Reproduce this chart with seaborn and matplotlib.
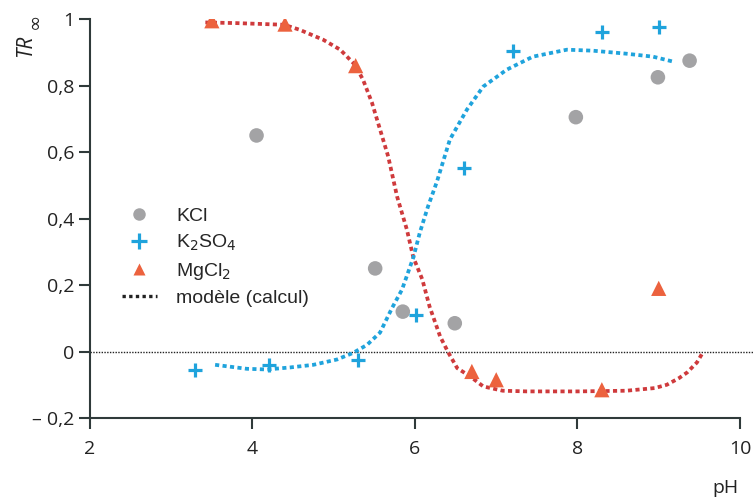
import numpy as np
import pandas as pd
import matplotlib
matplotlib.use('Agg')
import matplotlib.pyplot as plt
from matplotlib.lines import Line2D
from matplotlib.ticker import FuncFormatter
import seaborn as sns

# measured points
kcl_ph = [4.05, 5.51, 5.85, 6.49, 7.98, 8.99, 9.38]
kcl_tr = [0.65, 0.25, 0.12, 0.085, 0.705, 0.825, 0.875]

k2so4_ph = [3.29, 4.2, 5.3, 6.01, 6.6, 7.21, 8.3, 9.0]
k2so4_tr = [-0.057, -0.04, -0.025, 0.11, 0.553, 0.905, 0.96, 0.977]

mgcl2_ph = [3.5, 4.4, 5.27, 6.7, 7.0, 8.3, 9.0]
mgcl2_tr = [0.995, 0.985, 0.86, -0.06, -0.085, -0.115, 0.19]

# model curves
model_mg_ph = [3.42, 3.8, 4.39, 4.58, 4.87, 5.08, 5.26, 5.36, 5.47, 5.57, 5.67,
               5.78, 5.9, 5.98, 6.09, 6.18, 6.31, 6.41, 6.52, 6.68, 6.84, 7.08,
               7.38, 8.0, 8.6, 8.95, 9.1, 9.25, 9.35, 9.47, 9.55]
model_mg_tr = [0.99, 0.988, 0.983, 0.968, 0.938, 0.908, 0.863, 0.818, 0.749, 0.668,
               0.587, 0.466, 0.367, 0.283, 0.217, 0.135, 0.045, -0.003, -0.05,
               -0.075, -0.105, -0.118, -0.12, -0.12, -0.118, -0.11, -0.1, -0.08,
               -0.063, -0.033, 0.0]

model_k_ph = [3.54, 3.93, 4.18, 4.46, 4.75, 5.04, 5.24, 5.41, 5.57, 5.72, 5.84,
              5.98, 6.06, 6.16, 6.27, 6.43, 6.64, 6.84, 7.13, 7.45, 7.87, 8.19,
              8.6, 8.93, 9.18]
model_k_tr = [-0.04, -0.052, -0.054, -0.048, -0.04, -0.024, -0.004, 0.02, 0.057,
              0.132, 0.186, 0.283, 0.358, 0.436, 0.511, 0.638, 0.728, 0.797, 0.848,
              0.887, 0.908, 0.905, 0.896, 0.887, 0.872]

sns.set_style('ticks')
plt.rcParams['font.family'] = ['Open Sans', 'DejaVu Sans']

grey = '#a3a3a5'
blue = '#1fa3dc'
orange = '#ec623e'
red = '#cf3a3c'
axis_col = '#2f3a3a'

fig = plt.figure(figsize=(7.53, 5.03), dpi=100)
ax = fig.add_axes([0.1195, 0.169, 0.8632, 0.793])

dots = (0, (1.1, 0.9))
sns.lineplot(x=model_mg_ph, y=model_mg_tr, sort=False, color=red, lw=2.7,
             linestyle=dots, ax=ax, zorder=2)
sns.lineplot(x=model_k_ph, y=model_k_tr, sort=False, color=blue, lw=2.7,
             linestyle=dots, ax=ax, zorder=2)
ax.plot([2, 10.28], [0, 0], color='#222222', lw=1.0, linestyle=(0, (1, 1)),
        clip_on=False, zorder=1)

sns.scatterplot(x=kcl_ph, y=kcl_tr, marker='o', color=grey, s=110,
                edgecolor='none', ax=ax, zorder=3)
sns.scatterplot(x=k2so4_ph, y=k2so4_tr, marker='+', color=blue, s=110,
                linewidth=2.3, ax=ax, zorder=3)
sns.scatterplot(x=mgcl2_ph, y=mgcl2_tr, marker='^', color=orange, s=120,
                edgecolor='none', ax=ax, zorder=3)

ax.set_xlim(2, 10)
ax.set_ylim(-0.2, 1)
ax.set_xticks([2, 4, 6, 8, 10])
ax.set_yticks([-0.2, 0, 0.2, 0.4, 0.6, 0.8, 1])


def fr_fmt(v, pos):
    if abs(v) < 1e-9:
        return '0'
    if abs(v - 1) < 1e-9:
        return '1'
    s = ('%.1f' % abs(v)).replace('.', ',')
    return ('\u2013 ' + s) if v < 0 else s


ax.yaxis.set_major_formatter(FuncFormatter(fr_fmt))
ax.tick_params(axis='both', direction='out', length=8, width=1.5,
               color=axis_col, labelsize=14, labelcolor='#222222', pad=3)
ax.tick_params(axis='x', pad=8)
for side in ['top', 'right']:
    ax.spines[side].set_visible(False)
for side in ['left', 'bottom']:
    ax.spines[side].set_color(axis_col)
    ax.spines[side].set_linewidth(1.5)

ax.set_xlabel('')
ax.set_ylabel('')
fig.text(0.963, 0.03, 'pH', fontsize=14, color='#222222', ha='center', va='center')
# y label: TR with infinity subscript
fig.text(26 / 753, 1 - 46 / 503, 'TR', fontsize=15, style='italic', color='#222222',
         rotation=90, ha='center', va='center')
fig.text(34 / 753, 1 - 21 / 503, '\u221e', fontsize=14, color='#222222',
         family='DejaVu Sans', rotation=90, ha='center', va='center')

handles = [
    Line2D([], [], marker='o', color=grey, linestyle='none', markersize=9,
           markeredgecolor='none'),
    Line2D([], [], marker='+', color=blue, linestyle='none', markersize=11,
           markeredgewidth=2.3),
    Line2D([], [], marker='^', color=orange, linestyle='none', markersize=9,
           markeredgecolor='none'),
    Line2D([], [], color='#222222', lw=2.4, linestyle=(0, (1, 1))),
]
labels = ['KCl', r'K$_2$SO$_4$', r'MgCl$_2$', 'modèle (calcul)']
leg = ax.legend(handles, labels, loc='upper left', bbox_to_anchor=(0.022, 0.572),
                frameon=False, handlelength=1.8, handletextpad=1.0,
                labelspacing=0.4, prop={'family': 'Liberation Sans', 'size': 14})

fig.savefig('out.png', dpi=100)
